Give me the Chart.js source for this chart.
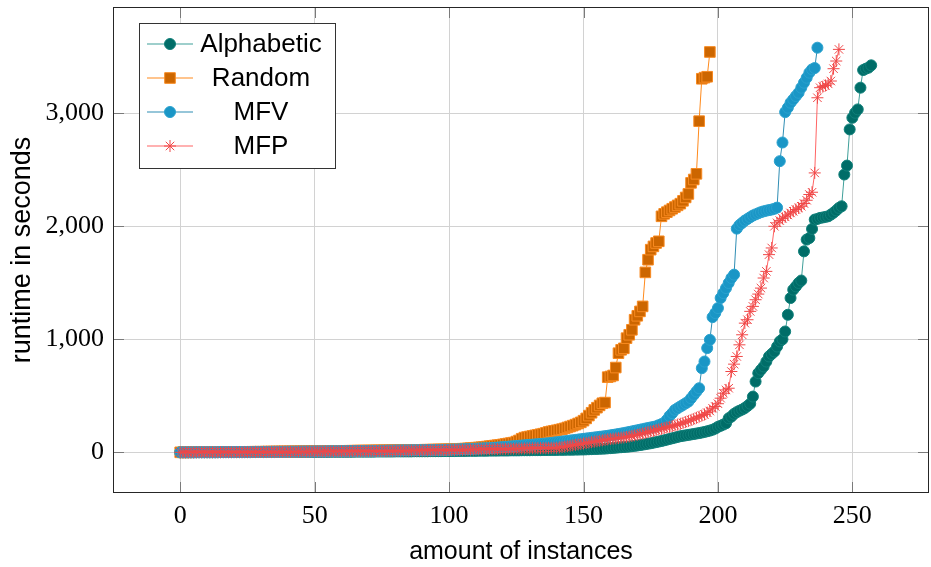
<!DOCTYPE html>
<html lang="en">

<head>
  <meta charset="UTF-8" />
  <script src="https://cdn.jsdelivr.net/npm/chart.js"></script>
  <title>Runtime per strategy</title>
  <style>
    body { margin: 0; background: #fff; }
    canvas { display: block; }
  </style>
</head>

<body>
  <canvas id="runtimeChart" width="931" height="567"></canvas>
</body>

</html>

<script>
  // sorted runtimes (seconds), one value per solved instance
  const alphabetic = [
    0, 0, 0, 0, 0, 0, 0, 0, 0, 0,
    0, 0, 0, 0, 0, 1, 1, 1, 1, 1,
    1, 1, 1, 1, 1, 1, 1, 2, 2, 2,
    2, 2, 2, 2, 2, 2, 3, 3, 3, 3,
    3, 3, 3, 3, 3, 3, 4, 4, 4, 4,
    4, 4, 4, 4, 4, 4, 5, 5, 5, 5,
    5, 5, 5, 5, 5, 6, 6, 6, 6, 6,
    6, 6, 6, 7, 7, 7, 7, 7, 7, 7,
    8, 8, 8, 8, 8, 8, 8, 9, 9, 9,
    9, 9, 9, 10, 10, 10, 10, 10, 11, 11,
    11, 11, 11, 12, 12, 12, 12, 13, 13, 13,
    13, 14, 14, 14, 14, 15, 15, 15, 15, 16,
    16, 16, 16, 17, 17, 17, 17, 18, 18, 18,
    18, 19, 19, 19, 19, 20, 20, 20, 21, 21,
    21, 22, 22, 22, 23, 23, 23, 24, 24, 25,
    25, 26, 27, 28, 29, 30, 31, 32, 33, 35,
    37, 39, 41, 43, 45, 47, 49, 51, 54, 57,
    60, 64, 68, 72, 76, 80, 85, 90, 95, 100,
    106, 112, 118, 124, 130, 136, 142, 146, 150, 154,
    158, 162, 166, 170, 175, 180, 186, 192, 200, 210,
    225, 235, 245, 257, 301, 316, 340, 355, 368, 378,
    392, 410, 430, 493, 626, 700, 730, 759, 803, 848,
    870, 892, 936, 981, 1000, 1069, 1217, 1365, 1439, 1468,
    1498, 1520, 1778, 1882, 1896, 1976, 2059, 2065, 2074, 2078,
    2083, 2088, 2103, 2120, 2140, 2162, 2177, 2458, 2537, 2857,
    2960, 3004, 3034, 3226, 3382, 3394, 3403, 3424
  ];

  const random = [
    0, 0, 0, 0, 1, 1, 1, 1, 1, 1,
    2, 2, 2, 2, 2, 2, 3, 3, 3, 3,
    3, 3, 4, 4, 4, 4, 4, 5, 5, 5,
    5, 5, 6, 6, 6, 6, 7, 7, 7, 7,
    8, 8, 8, 8, 9, 9, 9, 9, 10, 10,
    10, 10, 11, 11, 11, 11, 12, 12, 12, 12,
    13, 13, 13, 14, 14, 14, 15, 15, 15, 15,
    16, 16, 16, 17, 17, 17, 18, 18, 18, 19,
    19, 19, 20, 20, 20, 21, 21, 21, 22, 22,
    22, 23, 23, 23, 24, 24, 25, 25, 26, 26,
    27, 28, 29, 30, 31, 32, 33, 35, 37, 39,
    41, 43, 45, 48, 51, 54, 57, 60, 63, 66,
    70, 74, 78, 82, 86, 95, 105, 120, 130, 135,
    140, 145, 150, 155, 160, 165, 172, 180, 185, 190,
    195, 200, 205, 212, 220, 228, 236, 245, 255, 265,
    280, 300, 325, 350, 375, 395, 415, 434, 440, 665,
    671, 680, 750, 877, 907, 920, 1010, 1040, 1084, 1173,
    1208, 1247, 1291, 1592, 1704, 1793, 1822, 1852, 1867, 2088,
    2110, 2125, 2140, 2155, 2170, 2185, 2200, 2225, 2255, 2286,
    2384, 2414, 2464, 2930, 3305, 3315, 3323, 3542
  ];

  const mfv = [
    0, 0, 0, 0, 0, 0, 1, 1, 1, 1,
    1, 1, 1, 1, 2, 2, 2, 2, 2, 2,
    2, 3, 3, 3, 3, 3, 3, 3, 4, 4,
    4, 4, 4, 4, 5, 5, 5, 5, 5, 5,
    6, 6, 6, 6, 6, 7, 7, 7, 7, 7,
    8, 8, 8, 8, 8, 9, 9, 9, 9, 10,
    10, 10, 10, 11, 11, 11, 11, 12, 12, 12,
    12, 13, 13, 13, 14, 14, 14, 15, 15, 15,
    16, 16, 16, 17, 17, 17, 18, 18, 18, 19,
    19, 19, 20, 20, 20, 21, 21, 22, 22, 23,
    23, 24, 24, 25, 26, 27, 28, 29, 30, 31,
    32, 33, 34, 35, 36, 37, 38, 40, 42, 44,
    46, 48, 50, 52, 54, 56, 58, 60, 62, 64,
    66, 68, 70, 72, 74, 76, 78, 80, 83, 86,
    89, 92, 95, 98, 101, 104, 107, 110, 113, 116,
    119, 122, 125, 128, 131, 134, 137, 140, 143, 146,
    150, 154, 158, 162, 166, 170, 175, 180, 185, 190,
    195, 200, 205, 210, 215, 220, 225, 230, 240, 250,
    260, 287, 321, 346, 375, 390, 405, 419, 434, 449,
    478, 508, 538, 567, 744, 803, 922, 995, 1196, 1232,
    1276, 1365, 1409, 1453, 1498, 1542, 1572, 1979, 2010, 2030,
    2050, 2065, 2080, 2095, 2105, 2115, 2125, 2132, 2138, 2143,
    2148, 2155, 2165, 2576, 2741, 3010, 3049, 3093, 3122, 3152,
    3181, 3226, 3270, 3314, 3359, 3388, 3400, 3580
  ];

  const mfp = [
    0, 0, 0, 0, 0, 0, 0, 1, 1, 1,
    1, 1, 1, 1, 1, 1, 2, 2, 2, 2,
    2, 2, 2, 2, 3, 3, 3, 3, 3, 3,
    3, 4, 4, 4, 4, 4, 4, 5, 5, 5,
    5, 5, 5, 6, 6, 6, 6, 6, 7, 7,
    7, 7, 7, 7, 8, 8, 8, 8, 8, 9,
    9, 9, 9, 9, 10, 10, 10, 10, 11, 11,
    11, 11, 12, 12, 12, 12, 13, 13, 13, 13,
    14, 14, 14, 15, 15, 15, 16, 16, 16, 17,
    17, 17, 18, 18, 18, 19, 19, 19, 20, 20,
    20, 21, 21, 22, 22, 23, 23, 24, 24, 25,
    25, 26, 26, 27, 27, 28, 28, 29, 29, 30,
    30, 31, 31, 32, 32, 33, 33, 34, 34, 35,
    35, 36, 36, 37, 37, 38, 38, 39, 39, 40,
    40, 43, 46, 50, 54, 58, 62, 66, 70, 74,
    78, 82, 86, 90, 94, 98, 102, 106, 110, 114,
    117, 120, 123, 126, 129, 132, 135, 140, 145, 150,
    155, 160, 166, 172, 178, 184, 190, 196, 202, 208,
    214, 220, 226, 232, 238, 245, 252, 260, 268, 277,
    286, 295, 305, 315, 325, 335, 351, 365, 390, 405,
    430, 479, 523, 552, 567, 715, 780, 848, 951, 1040,
    1143, 1173, 1247, 1291, 1350, 1400, 1453, 1542, 1601, 1749,
    1808, 2000, 2030, 2050, 2070, 2083, 2100, 2118, 2133, 2148,
    2162, 2177, 2201, 2230, 2281, 2301, 2472, 3137, 3226, 3235,
    3246, 3260, 3285, 3394, 3462, 3565
  ];

  const xTicks = [0, 50, 100, 150, 200, 250];
  const yTicks = [0, 1000, 2000, 3000];

  const serif = "'Liberation Serif', 'DejaVu Serif', serif";
  const sans = "'Liberation Sans', Arial, sans-serif";

  function pontos(valores) {
    return valores.map((v, i) => ({ x: i, y: v }));
  }

  function serie(label, valores, linha, preenchimento, borda, estilo, raio, ordem) {
    return {
      label: label,
      data: pontos(valores),
      borderColor: linha,
      borderWidth: 1,
      pointStyle: estilo,
      pointRadius: raio,
      pointBackgroundColor: preenchimento,
      pointBorderColor: borda,
      pointBorderWidth: 1,
      fill: false,
      tension: 0,
      order: ordem,
    };
  }

  // frame around the plot with inward tick marks on all four sides
  const moldura = {
    id: "moldura",
    afterDatasetsDraw(chart) {
      const { ctx, chartArea: a, scales } = chart;
      ctx.save();
      ctx.strokeStyle = "#7a7a7a";
      ctx.lineWidth = 1;
      ctx.beginPath();
      xTicks.forEach((v) => {
        const px = Math.round(scales.x.getPixelForValue(v)) + 0.5;
        ctx.moveTo(px, a.bottom);
        ctx.lineTo(px, a.bottom - 11);
        ctx.moveTo(px, a.top);
        ctx.lineTo(px, a.top + 11);
      });
      yTicks.forEach((v) => {
        const py = Math.round(scales.y.getPixelForValue(v)) + 0.5;
        ctx.moveTo(a.left, py);
        ctx.lineTo(a.left + 11, py);
        ctx.moveTo(a.right, py);
        ctx.lineTo(a.right - 11, py);
      });
      ctx.stroke();
      ctx.strokeStyle = "#262626";
      ctx.strokeRect(a.left + 0.5, a.top + 0.5, a.right - a.left - 1, a.bottom - a.top - 1);
      ctx.restore();
    },
  };

  // legend box in the upper left corner of the plot
  const legenda = {
    id: "legenda",
    afterDraw(chart) {
      const ctx = chart.ctx;
      ctx.save();
      ctx.fillStyle = "#fff";
      ctx.fillRect(139.5, 23.5, 196, 145);
      ctx.strokeStyle = "#333";
      ctx.lineWidth = 1;
      ctx.strokeRect(139.5, 23.5, 196, 145);
      chart.data.datasets.forEach((ds, i) => {
        const y = 44 + i * 34;
        ctx.strokeStyle = ds.borderColor;
        ctx.lineWidth = 1.2;
        ctx.beginPath();
        ctx.moveTo(147, y);
        ctx.lineTo(193, y);
        ctx.stroke();
        ctx.fillStyle = ds.pointBackgroundColor;
        ctx.strokeStyle = ds.pointBorderColor;
        ctx.lineWidth = ds.pointBorderWidth;
        Chart.helpers.drawPoint(ctx, {
          pointStyle: ds.pointStyle,
          radius: ds.pointRadius,
          rotation: 0,
          borderWidth: ds.pointBorderWidth,
        }, 170, y);
        ctx.fillStyle = "#000";
        ctx.font = "26px " + sans;
        ctx.textAlign = "center";
        ctx.textBaseline = "middle";
        ctx.fillText(ds.label, 261, y + 1);
      });
      ctx.restore();
    },
  };

  const config = {
    type: "line",
    data: {
      datasets: [
        serie("Alphabetic", alphabetic, "#3f9f99", "#006d68", "#10807a", "circle", 5.5, 4),
        serie("Random", random, "#ff8a1c", "#cc6600", "#f88a20", "rect", 7.5, 3),
        serie("MFV", mfv, "#2f8db3", "#1a96c6", "#2aa2cf", "circle", 5.5, 2),
        serie("MFP", mfp, "#ff6464", "#f04848", "#f04848", "star", 6, 1),
      ],
    },
    options: {
      responsive: false,
      devicePixelRatio: 1,
      animation: false,
      events: [],
      layout: { autoPadding: false, padding: { top: 7, right: 2, left: 0, bottom: 0 } },
      plugins: { legend: { display: false }, tooltip: { enabled: false } },
      scales: {
        x: {
          type: "linear",
          min: -25,
          max: 278.5,
          afterBuildTicks: (s) => { s.ticks = xTicks.map((v) => ({ value: v })); },
          afterFit: (s) => {
            s.height = 74;
            s.paddingLeft = 0;
            s.paddingRight = 0;
          },
          grid: { color: "#d2d2d2", drawTicks: false },
          border: { display: false },
          ticks: {
            color: "#000",
            padding: 8,
            font: { family: serif, size: 26 },
            callback: (v) => String(v),
          },
          title: {
            display: true,
            text: "amount of instances",
            color: "#000",
            font: { family: sans, size: 25 },
            padding: { bottom: 0 },
          },
        },
        y: {
          type: "linear",
          min: -360,
          max: 3940,
          afterBuildTicks: (s) => { s.ticks = yTicks.map((v) => ({ value: v })); },
          afterFit: (s) => {
            s.width = 113;
            s.paddingTop = 0;
            s.paddingBottom = 0;
          },
          grid: { color: "#d2d2d2", drawTicks: false },
          border: { display: false },
          ticks: {
            color: "#000",
            padding: 9,
            font: { family: serif, size: 26 },
            callback: (v) => v.toLocaleString("en-US"),
          },
          title: {
            display: true,
            text: "runtime in seconds",
            color: "#000",
            font: { family: sans, size: 27 },
            padding: { top: 6 },
          },
        },
      },
    },
    plugins: [moldura, legenda],
  };

  let grafico = new Chart(document.getElementById("runtimeChart").getContext("2d"), config);
</script>
